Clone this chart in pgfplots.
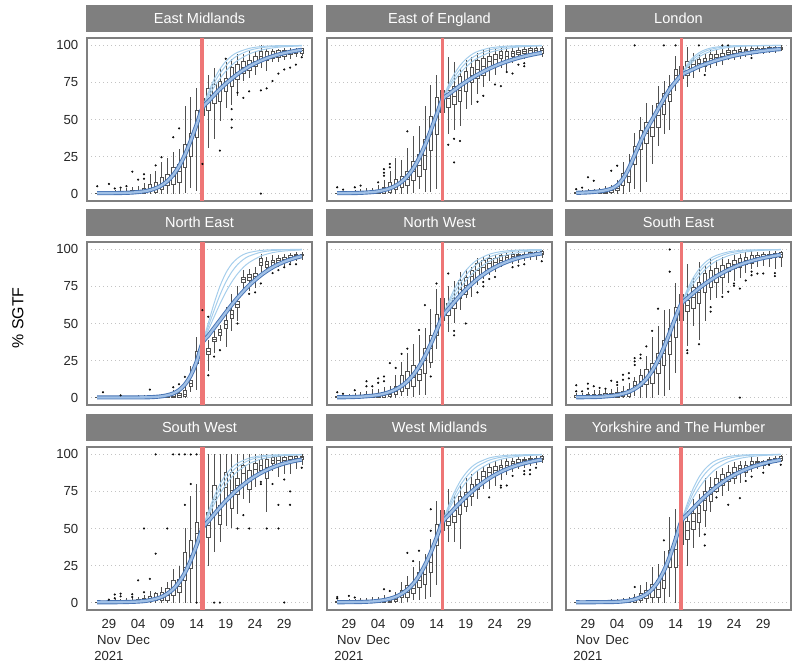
\documentclass[border=0pt]{standalone}
\usepackage{fontspec}
\setmainfont{Liberation Sans}
\usepackage{pgfplots}
\pgfplotsset{compat=1.18}
\usepgfplotslibrary{statistics}
\definecolor{stripgray}{RGB}{127,127,127}
\definecolor{bordergray}{RGB}{127,127,127}
\definecolor{gridgray}{RGB}{195,195,195}
\definecolor{redl}{RGB}{238,118,118}
\definecolor{fanblue}{RGB}{166,206,236}
\definecolor{bandblue}{RGB}{70,115,180}
\definecolor{bandlight}{RGB}{160,192,230}
\definecolor{boxgray}{RGB}{80,80,80}
\definecolor{dotgray}{RGB}{50,50,50}
\newcommand{\B}[6]{\addplot[bxp, boxplot prepared={draw direction=y, draw position=#1, lower whisker=#2, lower quartile=#3, median=#4, upper quartile=#5, upper whisker=#6, box extend=0.6, whisker extend=0}] coordinates {};}
\pgfplotsset{
 panel/.style={
  scale only axis, width=225bp, height=163bp,
  xmin=-3.75, xmax=34.75, ymin=-5, ymax=105,
  xtick={0,5,10,15,20,25,30}, ytick={0,25,50,75,100},
  xticklabels={}, yticklabels={},
  major tick length=0pt,
  ymajorgrids,
  grid style={gridgray, line width=0.7bp, dash pattern=on 1.2bp off 2.8bp},
  axis line style={draw=bordergray, line width=1.3bp},
  title style={at={(0.5,1)}, anchor=south, fill=stripgray, text=white, minimum width=226.3bp, minimum height=27.5bp, inner sep=0pt, outer sep=0pt, font=\fontsize{14.6}{17}\selectfont, text height=10.5bp, text depth=0pt},
  ticklabel style={font=\fontsize{13.2}{16}\selectfont, text=black!85},
  yticklabel style={inner sep=0pt, xshift=-8.5bp},
  xticklabel style={inner sep=0pt, yshift=-9bp, align=center},
 },
 leftcol/.style={yticklabels={0,25,50,75,100}},
 bottomrow/.style={xticklabels={{29\\Nov\\2021},{04\\Dec},09,14,19,24,29}},
 bxp/.style={draw=boxgray, fill=white, line width=0.5bp, solid, forget plot},
 outl/.style={only marks, mark=*, mark size=0.85bp, mark options={fill=dotgray, draw=none}, forget plot},
 fan/.style={no marks, smooth, line width=1bp, color=fanblue, forget plot},
 band/.style={no marks, smooth, draw=bandblue, line width=0.9bp, double=bandlight, double distance=2.3bp, forget plot},
 redv/.style={no marks, draw=redl, forget plot},
}
\begin{document}
\begin{tikzpicture}
\useasboundingbox (0bp,0bp) rectangle (800bp,671bp);
\node[rotate=90, font=\fontsize{16}{19}\selectfont] at (18bp,353bp) {\% SGTF};

%%%%%%%%%%%%%%%% East Midlands
\begin{axis}[panel, leftcol, at={(87bp,470bp)}, anchor=south west, title={East Midlands}]
\B{-2}{0}{0}{0}{0.5}{1.5}
\B{-1}{0}{0}{0}{0.4}{1.2}
\B{0}{0}{0}{0.2}{0.8}{2}
\B{1}{0}{0}{0.3}{1}{2.5}
\B{2}{0}{0}{0.5}{1.3}{3}
\B{3}{0}{0}{0.5}{1.5}{3.5}
\B{4}{0}{0.2}{0.8}{2}{4.5}
\B{5}{0}{0.3}{1}{2.2}{5}
\B{6}{0}{0.5}{1.5}{3.5}{7}
\B{7}{0}{1.5}{3.5}{6}{13}
\B{8}{0}{1.2}{4}{7.6}{15}
\B{9}{0}{3}{6}{11}{21}
\B{10}{0}{5.4}{9}{13}{24}
\B{11}{0}{6.5}{12}{17.7}{28}
\B{12}{0}{7.6}{15}{20}{30}
\B{13}{0.5}{17.7}{25}{33}{59}
\B{14}{4}{25}{34}{41}{65}
\B{15}{2}{38}{47}{56}{71}
\B{16}{22}{53}{58}{64}{82.5}
\B{17}{31}{56}{64}{71}{80}
\B{18}{37}{61}{67}{73.6}{85}
\B{19}{49}{62}{70}{76}{85}
\B{20}{58}{69}{74}{78}{89}
\B{21}{60}{72.5}{79}{85}{91}
\B{22}{66}{77}{82}{87}{94}
\B{23}{76}{81}{85}{89}{94}
\B{24}{78}{83}{87}{90}{96}
\B{25}{80}{86}{89}{92.6}{96}
\B{26}{85}{90}{93}{96}{100}
\B{27}{83}{90}{93}{96}{97.5}
\B{28}{89}{91.5}{94}{96}{97.5}
\B{29}{89}{92}{94.5}{96.5}{97.5}
\B{30}{90}{93}{95}{97}{98}
\B{31}{91}{94}{95.5}{97}{98.5}
\B{32}{92}{94.5}{96}{97.5}{98.5}
\B{33}{93}{95}{96.5}{98}{98.5}
\addplot[outl] coordinates {(-2,5)(0,6.5)(1,3.5)(2,4)(3,5)(4,14.8)(5,9.4)(6,13)(6,10)(8,19)(9,24.5)(11,38)(12,44)(16,20)(19,29)(20,91)(21,57)(21,50)(21,44.5)(22,68)(23,64.6)(24,69)(26,0)(26,69.6)(27,71)(28,76)(29,81)(30,83.7)(31,85)(32,87)(33,92)};
\addplot[fan] coordinates {(16,57.8)(17,68.2)(18,77.1)(19,84.1)(20,89.2)(21,92.9)(22,95.3)(24,98.0)(26,99.2)(28,99.7)(30,99.85)(33,99.95)};
\addplot[fan] coordinates {(16,57.8)(17,66.7)(18,74.6)(19,81.1)(20,86.2)(21,90.2)(22,93.1)(24,96.6)(26,98.4)(28,99.2)(30,99.6)(33,99.9)};
\addplot[fan] coordinates {(16,57.8)(17,65.1)(18,71.8)(19,77.6)(20,82.6)(21,86.6)(22,89.8)(24,94.2)(26,96.8)(28,98.3)(30,99.1)(33,99.7)};
\addplot[band] coordinates {(-2,0.3)(0,0.3)(2,0.4)(4,0.7)(6,1.5)(7,2.3)(8,3.6)(9,5.5)(10,8.4)(11,12.6)(12,18.4)(13,26.1)(14,35.7)(15,46.5)(16,57.8)(17,62.2)(18,66.5)(19,70.5)(20,74.2)(22,80.6)(24,85.8)(26,89.7)(28,92.7)(30,94.8)(32,96.4)(33,97.0)};
\addplot[redv, line width=4bp] coordinates {(16,-5)(16,105)};
\end{axis}

%%%%%%%%%%%%%%%% East of England
\begin{axis}[panel, at={(327bp,470bp)}, anchor=south west, title={East of England}]
\B{-2}{0}{0}{0}{0.5}{1.5}
\B{-1}{0}{0}{0}{0.5}{1.5}
\B{0}{0}{0}{0.2}{0.8}{2}
\B{1}{0}{0}{0.3}{1}{2.5}
\B{2}{0}{0}{0.4}{1.2}{3}
\B{3}{0}{0}{0.5}{1.5}{3.5}
\B{4}{0}{0}{0.6}{1.8}{4}
\B{5}{0}{0.3}{1}{2.5}{5.5}
\B{6}{0}{0.5}{1.5}{4}{9}
\B{7}{0}{1}{3.5}{7.6}{15}
\B{8}{0}{3}{6}{10}{24}
\B{9}{0}{4}{8}{12}{23}
\B{10}{0}{5.4}{10}{15.4}{31}
\B{11}{0.5}{8.7}{15}{22}{39}
\B{12}{3}{12}{19}{26.6}{45.6}
\B{13}{1}{16.5}{26}{36.7}{59}
\B{14}{1}{29}{40}{52}{73.6}
\B{15}{3}{40}{53}{64.7}{80}
\B{16}{8}{55}{63}{70}{95}
\B{17}{40}{58}{64}{70}{92}
\B{18}{43}{60}{66}{72.5}{89}
\B{19}{45.6}{62}{70}{79}{84}
\B{20}{57}{69}{76}{82.5}{90}
\B{21}{60}{75}{80}{85}{92}
\B{22}{67}{78}{84}{90}{95}
\B{23}{72}{80}{86}{91.5}{97}
\B{24}{76}{85}{89}{92.6}{98}
\B{25}{80}{87}{90.5}{94}{98}
\B{26}{85}{91.5}{93.5}{96}{99}
\B{27}{83}{89}{93}{96}{99}
\B{28}{88}{92.6}{94.5}{96}{98.5}
\B{29}{90}{94}{95.5}{97}{99}
\B{30}{91}{94.5}{96}{97.5}{99}
\B{31}{92}{95}{96.5}{98}{99.5}
\B{32}{93}{95.5}{97}{98}{99.5}
\B{33}{92}{94.6}{96.5}{98}{99.5}
\addplot[outl] coordinates {(-2,4.2)(-1,2.7)(1,4.2)(2,5.4)(5,7.6)(6,16.5)(6,14)(6,12)(7,20)(7,17.7)(10,42)(17,33)(18,37)(18,21)(19,35.5)(22,62)(23,66)(25,73.6)(26,72.5)(27,82)(28,81)(29,87)(30,88)(30,86)};
\addplot[fan] coordinates {(16,63.6)(17,72.9)(18,80.5)(19,86.4)(20,90.7)(21,93.8)(22,95.9)(24,98.2)(26,99.2)(28,99.7)(30,99.85)(33,99.95)};
\addplot[fan] coordinates {(16,63.6)(17,71.5)(18,78.2)(19,83.8)(20,88.1)(21,91.4)(22,93.8)(24,96.9)(26,98.5)(28,99.2)(30,99.6)(33,99.9)};
\addplot[fan] coordinates {(16,63.6)(17,70.3)(18,76.1)(19,81.2)(20,85.3)(21,88.7)(22,91.4)(24,95.1)(26,97.2)(28,98.5)(30,99.2)(33,99.7)};
\addplot[band] coordinates {(-2,0.3)(0,0.3)(2,0.5)(4,1.0)(5,1.5)(6,2.3)(7,3.5)(8,5.3)(9,7.9)(10,11.7)(11,16.9)(12,23.9)(13,32.5)(14,42.6)(15,53.2)(16,63.6)(17,66.8)(18,69.8)(19,72.7)(20,75.4)(22,80.2)(24,84.3)(26,87.7)(28,90.4)(30,92.6)(32,94.3)(33,95.0)};
\addplot[redv, line width=3bp] coordinates {(16,-5)(16,105)};
\end{axis}

%%%%%%%%%%%%%%%% London
\begin{axis}[panel, at={(566bp,470bp)}, anchor=south west, title={London}]
\B{-2}{0}{0}{0.3}{1}{2}
\B{-1}{0}{0}{0.3}{1}{2.5}
\B{0}{0}{0.2}{0.5}{1.5}{3}
\B{1}{0}{0.2}{0.6}{1.5}{3}
\B{2}{0}{0.3}{0.8}{2}{4}
\B{3}{0}{0.4}{1}{2.5}{5}
\B{4}{0}{1}{2}{3}{6}
\B{5}{0}{2}{3.5}{5}{9}
\B{6}{0}{5.4}{9}{14}{21}
\B{7}{0.9}{7.6}{12}{17.7}{26.6}
\B{8}{3}{20}{26}{32}{41}
\B{9}{1}{30}{36}{43}{52}
\B{10}{7.6}{34}{41}{48}{61}
\B{11}{20}{39}{45}{50}{60}
\B{12}{32}{44.5}{53}{61}{72.5}
\B{13}{40}{53.5}{60}{68}{76}
\B{14}{43}{62}{67}{72.5}{80}
\B{15}{69}{76}{80}{83.7}{92.6}
\B{16}{72.5}{78}{82}{86}{90}
\B{17}{72}{80}{85}{89}{99}
\B{18}{78}{84}{87}{90}{95}
\B{19}{82}{85}{88}{90.5}{94}
\B{20}{82}{86}{89}{91.5}{95}
\B{21}{85}{89}{91.5}{94}{97}
\B{22}{86}{90}{92}{94}{97}
\B{23}{87}{91}{93}{95}{98}
\B{24}{90}{94}{95.5}{97}{99}
\B{25}{90}{93.5}{95}{96.5}{99}
\B{26}{91}{95}{96}{97.5}{99.5}
\B{27}{92}{95}{96.5}{97.5}{99.5}
\B{28}{93}{96}{97}{98}{99.5}
\B{29}{94}{96}{97}{98}{99.5}
\B{30}{94}{96}{97.5}{98}{99.5}
\B{31}{95}{97}{97.5}{98.5}{99.5}
\B{32}{95}{97}{98}{98.5}{99.5}
\B{33}{96}{97.5}{98}{99}{100}
\addplot[outl] coordinates {(-2,3)(-1,4)(0,11)(1,8.7)(4,15.4)(5,18.8)(8,100)(13,100)(15,100)(19,100)(20,80)(23,100)(24,100)(28,91.5)};
\addplot[fan] coordinates {(16,80)(17,87.1)(18,91.9)(19,95.0)(20,97.0)(21,98.2)(22,98.9)(24,99.6)(26,99.85)(33,99.99)};
\addplot[fan] coordinates {(16,80)(17,86.1)(18,90.6)(19,93.7)(20,95.9)(21,97.3)(22,98.2)(24,99.3)(26,99.7)(33,99.98)};
\addplot[fan] coordinates {(16,80)(17,85.1)(18,89.2)(19,92.2)(20,94.4)(21,96.0)(22,97.2)(24,98.6)(26,99.3)(28,99.7)(33,99.9)};
\addplot[band] coordinates {(-2,0.5)(0,0.8)(2,1.5)(3,2.2)(4,3.3)(5,5.5)(6,10)(7,17)(8,26)(9,35)(10,43)(11,50)(12,57)(13,64)(14,70.5)(15,75.5)(16,80)(17,82.1)(18,83.9)(19,85.7)(20,87.2)(22,89.9)(24,92.1)(26,93.9)(28,95.2)(30,96.3)(32,97.2)(33,97.5)};
\addplot[redv, line width=2.5bp] coordinates {(16,-5)(16,105)};
\end{axis}

%%%%%%%%%%%%%%%% North East
\begin{axis}[panel, leftcol, at={(87bp,266bp)}, anchor=south west, title={North East}]
\B{-2}{0}{0}{0}{0}{0.5}
\B{-1}{0}{0}{0}{0}{0.8}
\B{0}{0}{0}{0}{0}{0.5}
\B{1}{0}{0}{0}{0.3}{1}
\B{2}{0}{0}{0}{0}{0.8}
\B{3}{0}{0}{0}{0.3}{1}
\B{4}{0}{0}{0}{0.3}{1}
\B{5}{0}{0}{0}{0.5}{1.5}
\B{6}{0}{0}{0}{0.5}{1.5}
\B{7}{0}{0}{0.2}{0.8}{2}
\B{8}{0}{0}{0.2}{0.8}{2}
\B{9}{0}{0}{0.3}{1}{2.5}
\B{10}{0}{0}{0.5}{1.5}{3}
\B{11}{0}{0.3}{1}{2.5}{5}
\B{12}{0}{0.5}{1.5}{3}{6}
\B{13}{0}{1}{2.5}{5}{9}
\B{14}{4}{7.6}{10}{12}{21}
\B{15}{5}{23}{27}{31}{41}
\B{16}{15}{30}{35}{40}{55}
\B{17}{17.7}{29}{31}{33}{39}
\B{18}{30}{38}{39.5}{41}{45}
\B{19}{38}{42}{44}{46}{49}
\B{20}{34}{47}{49.5}{52}{61}
\B{21}{45}{53.5}{56}{59}{70}
\B{22}{52}{61}{63}{65}{75}
\B{23}{72.5}{78}{80}{81.5}{86}
\B{24}{72}{79}{81}{83}{87}
\B{25}{74}{80}{82}{84}{88}
\B{26}{85}{89}{91.5}{94}{97}
\B{27}{84}{88}{90}{92}{95}
\B{28}{86}{89}{91}{93}{96}
\B{29}{88}{91}{92.5}{94}{96.5}
\B{30}{89}{92}{93.5}{95}{97}
\B{31}{91}{94}{95}{96}{97.5}
\B{32}{92}{95}{96}{97}{98}
\B{33}{93}{96}{96.5}{97}{98}
\addplot[outl] coordinates {(-1,3.6)(2,1.5)(7,5.4)(11,7)(12,9)(13,14)(16,59)(17,54.6)(17,15)(18,27.7)(19,32)(22,50)(24,70)(25,71)(26,77)(28,84)(29,86)(30,88)(31,90)(32,90)};
\addplot[fan] coordinates {(16,36.8)(17,50.2)(18,63.6)(19,75.2)(20,84.0)(21,90.1)(22,94.0)(23,96.5)(24,97.9)(26,99.3)(28,99.8)(33,99.99)};
\addplot[fan] coordinates {(16,36.8)(17,47.8)(18,58.9)(19,69.2)(20,77.9)(21,84.7)(22,89.7)(23,93.2)(24,95.5)(26,98.1)(28,99.2)(30,99.7)(33,99.95)};
\addplot[fan] coordinates {(16,36.8)(17,45.5)(18,54.5)(19,63.2)(20,71.1)(21,77.9)(22,83.5)(23,87.9)(24,91.2)(26,95.5)(28,97.8)(30,98.9)(33,99.7)};
\addplot[band] coordinates {(-2,0.1)(0,0.1)(2,0.1)(4,0.1)(6,0.15)(7,0.26)(8,0.48)(9,0.87)(10,1.6)(11,2.8)(12,5.0)(13,8.8)(14,14.9)(15,24.2)(16,36.8)(17,41.8)(18,47.0)(19,52.2)(20,57.4)(21,62.5)(22,67.3)(23,71.7)(24,75.8)(26,82.6)(28,87.9)(30,91.7)(32,94.4)(33,95.4)};
\addplot[redv, line width=4.5bp] coordinates {(16,-5)(16,105)};
\end{axis}

%%%%%%%%%%%%%%%% North West
\begin{axis}[panel, at={(327bp,266bp)}, anchor=south west, title={North West}]
\B{-2}{0}{0}{0.2}{0.8}{2}
\B{-1}{0}{0}{0.2}{0.8}{2}
\B{0}{0}{0}{0.3}{1}{2.5}
\B{1}{0}{0}{0.4}{1.2}{3}
\B{2}{0}{0}{0.5}{1.5}{3.5}
\B{3}{0}{0.2}{0.8}{2}{4.5}
\B{4}{0}{0.3}{1}{2.5}{5.5}
\B{5}{0}{0.5}{1.2}{2.8}{6}
\B{6}{0}{0.5}{1.5}{3.2}{7}
\B{7}{0}{1}{2.5}{4.2}{7.6}
\B{8}{0}{2}{4.5}{7.6}{15.4}
\B{9}{0.9}{4.2}{9}{15.4}{24}
\B{10}{1}{6.5}{12}{17.7}{30}
\B{11}{0.5}{7.6}{14}{22}{36}
\B{12}{2}{12}{15.5}{18.8}{42}
\B{13}{2}{16.5}{25}{33}{47}
\B{14}{20}{24}{33}{42}{60}
\B{15}{33}{42}{49}{56}{73.6}
\B{16}{39}{52}{59}{67}{79}
\B{17}{44.5}{55.7}{59.5}{63.5}{75}
\B{18}{50}{60}{63.5}{67}{79}
\B{19}{59}{67}{73}{79}{85}
\B{20}{67}{70}{76}{81}{87}
\B{21}{68}{77}{82}{86}{88}
\B{22}{76}{81.4}{86}{90.4}{94}
\B{23}{80}{83.7}{88}{92.6}{95}
\B{24}{83}{87}{90.5}{94}{96}
\B{25}{85}{88}{91}{94}{96}
\B{26}{88}{90.4}{93}{96}{97}
\B{27}{90}{93}{94.5}{96}{98}
\B{28}{90}{94}{95.5}{97}{98}
\B{29}{91}{95}{96}{97}{99}
\B{30}{92}{95}{96}{97}{99}
\B{31}{93}{96}{97}{98}{99}
\B{32}{93}{96}{97}{98}{99.5}
\B{33}{94}{96.6}{97.5}{99}{99.5}
\addplot[outl] coordinates {(-2,3.6)(-1,2.6)(1,5)(3,11)(3,7.6)(4,7.6)(5,13)(5,10)(6,14.3)(6,11)(7,23.3)(8,20)(9,29.5)(10,33)(12,45.6)(13,62.4)(14,14.3)(15,77)(17,83.7)(18,42)(18,45)(20,50)(22,71)(23,78)(23,75)(24,80)(25,81.4)(28,88)(29,89)(30,90)(33,92)};
\addplot[fan] coordinates {(16,54.7)(17,64.3)(18,72.9)(19,80.1)(20,85.7)(21,89.9)(22,93.0)(24,96.7)(26,98.5)(28,99.3)(30,99.7)(33,99.9)};
\addplot[fan] coordinates {(16,54.7)(17,62.9)(18,70.5)(19,77.0)(20,82.5)(21,86.9)(22,90.3)(24,94.8)(26,97.3)(28,98.6)(30,99.3)(33,99.8)};
\addplot[fan] coordinates {(16,54.7)(17,61.5)(18,67.9)(19,73.7)(20,78.8)(21,83.1)(22,86.6)(24,91.9)(26,95.2)(28,97.2)(30,98.4)(33,99.4)};
\addplot[band] coordinates {(-2,0.2)(0,0.3)(2,0.6)(4,1.25)(5,1.8)(6,2.6)(7,3.8)(8,5.5)(9,7.8)(10,11.0)(11,15.3)(12,20.9)(13,27.9)(14,36.1)(15,45.3)(16,54.7)(17,59.6)(18,64.3)(19,68.8)(20,72.9)(22,80.1)(24,85.7)(26,89.9)(28,93.0)(30,95.2)(32,96.7)(33,97.3)};
\addplot[redv, line width=3.3bp] coordinates {(16,-5)(16,105)};
\end{axis}

%%%%%%%%%%%%%%%% South East
\begin{axis}[panel, at={(566bp,266bp)}, anchor=south west, title={South East}]
\B{-2}{0}{0}{0.5}{1.5}{3}
\B{-1}{0}{0}{0.5}{1.5}{3}
\B{0}{0}{0}{0.8}{2}{4}
\B{1}{0}{0.2}{1}{2.5}{5}
\B{2}{0}{0.2}{1}{2.5}{5}
\B{3}{0}{0.3}{1.2}{3}{5}
\B{4}{0}{0.3}{1.5}{3}{6}
\B{5}{0}{0.5}{1.8}{3.5}{7}
\B{6}{0}{1}{2.5}{4}{8}
\B{7}{0}{1}{3}{5.4}{10}
\B{8}{1}{5.4}{8}{11}{14}
\B{9}{0}{7.6}{11}{15.4}{19}
\B{10}{0}{8.7}{13}{18.8}{28}
\B{11}{0}{10}{17}{23}{41}
\B{12}{2}{16.5}{23}{30}{48}
\B{13}{1}{22}{30}{39}{59}
\B{14}{5.4}{29}{38}{47}{60}
\B{15}{16.5}{41}{52}{61}{77}
\B{16}{34.5}{52}{61}{70}{78}
\B{17}{34.5}{58}{62}{66}{90}
\B{18}{48}{60}{68}{74.7}{81}
\B{19}{39}{63.5}{71}{78}{91.5}
\B{20}{52}{71}{78}{84}{89}
\B{21}{66}{74.7}{80}{86}{93.7}
\B{22}{67}{78}{83}{87}{92.6}
\B{23}{70}{81.4}{85}{89}{95}
\B{24}{77}{85}{88}{90.4}{93.7}
\B{25}{79}{87}{90}{92.6}{96}
\B{26}{81}{88}{91}{93.7}{97}
\B{27}{84}{89.7}{92.5}{95}{98}
\B{28}{87}{90.4}{93}{96}{99}
\B{29}{88}{93}{94.5}{96}{98}
\B{30}{89}{94}{95.5}{97}{98.5}
\B{31}{88}{94}{95.5}{97}{99}
\B{32}{87}{94.6}{96}{97.5}{99}
\B{33}{88}{94.6}{96.5}{98}{99}
\addplot[outl] coordinates {(-2,8.3)(-2,4.2)(-1,4.2)(0,9.4)(0,6)(1,7.6)(2,6.5)(3,6)(4,11.4)(5,10.5)(5,8.5)(6,15.4)(6,12)(7,16.5)(7,13)(8,26.6)(8,24.4)(8,22)(9,29)(9,26.6)(10,34.5)(11,45)(12,60)(14,100)(14,85)(17,32)(17,30)(19,36)(21,58)(21,61)(23,68)(24,71.4)(25,77)(25,75.5)(26,0)(26,73.6)(27,79)(28,85)(28,82.6)(29,83.7)(30,83.7)(32,84)(32,82)};
\addplot[fan] coordinates {(16,63.4)(17,72.9)(18,80.7)(19,86.6)(20,91.0)(21,94.0)(22,96.0)(24,98.3)(26,99.3)(28,99.7)(33,99.95)};
\addplot[fan] coordinates {(16,63.4)(17,71.7)(18,78.8)(19,84.4)(20,88.8)(21,92.1)(22,94.4)(24,97.3)(26,98.7)(28,99.4)(30,99.7)(33,99.9)};
\addplot[fan] coordinates {(16,63.4)(17,70.5)(18,76.7)(19,81.9)(20,86.2)(21,89.6)(22,92.2)(24,95.7)(26,97.7)(28,98.8)(30,99.4)(33,99.8)};
\addplot[band] coordinates {(-2,0.2)(0,0.3)(2,0.5)(4,1.15)(5,1.7)(6,2.6)(7,3.9)(8,5.9)(9,8.7)(10,12.7)(11,18.1)(12,25.2)(13,33.8)(14,43.8)(15,54.2)(16,63.4)(17,67.0)(18,70.5)(19,73.7)(20,76.7)(22,81.9)(24,86.2)(26,89.6)(28,92.2)(30,94.2)(32,95.7)(33,96.3)};
\addplot[redv, line width=2.2bp] coordinates {(16,-5)(16,105)};
\end{axis}

%%%%%%%%%%%%%%%% South West
\begin{axis}[panel, leftcol, bottomrow, at={(87bp,61bp)}, anchor=south west, title={South West}]
\B{-2}{0}{0}{0}{0}{0.5}
\B{-1}{0}{0}{0}{0.3}{1}
\B{0}{0}{0}{0}{0.5}{1.5}
\B{1}{0}{0}{0.3}{1}{2.5}
\B{2}{0}{0}{0.3}{1}{2.5}
\B{3}{0}{0}{0.3}{1.2}{3}
\B{4}{0}{0}{0.5}{1.5}{3}
\B{5}{0}{0.3}{1}{2}{4}
\B{6}{0}{0.5}{1.5}{3}{5}
\B{7}{0}{1}{2}{4.2}{8}
\B{8}{0}{1.6}{3}{6}{7}
\B{9}{0}{1.6}{4}{7}{10.5}
\B{10}{0}{1.6}{5}{9.4}{14}
\B{11}{0}{5}{10}{15}{23}
\B{12}{0}{7}{11}{16}{25}
\B{13}{0}{15}{24}{34}{50}
\B{14}{0}{23}{32}{42}{72}
\B{15}{0.5}{39.6}{47}{54}{80}
\B{16}{0}{48.5}{58}{71}{100}
\B{17}{25}{44}{52}{61}{100}
\B{18}{34}{60}{70}{79}{100}
\B{19}{41}{53}{59}{66}{100}
\B{20}{52}{68.7}{78}{87.7}{100}
\B{21}{50}{64}{76}{87.7}{100}
\B{22}{60}{73}{79}{84}{100}
\B{23}{70}{80}{87}{93}{100}
\B{24}{67}{76.5}{84}{89}{100}
\B{25}{78}{85}{90}{94}{100}
\B{26}{86}{89}{93}{96.6}{100}
\B{27}{61}{84}{91}{96.6}{100}
\B{28}{89}{94}{96}{98}{100}
\B{29}{85}{92}{96}{99}{100}
\B{30}{87}{94}{96}{98}{100}
\B{31}{87}{95}{97}{98.5}{100}
\B{32}{90}{96}{97.5}{98.5}{100}
\B{33}{93}{96.6}{98}{99}{100}
\addplot[outl] coordinates {(0,2)(1,3)(1,5.4)(2,6)(2,4.2)(4,5.6)(4,3.8)(5,15)(6,50)(6,7)(7,16)(8,33)(8,100)(10,50)(11,100)(12,100)(13,100)(13,66)(14,100)(14,80)(15,100)(15,0)(18,0)(19,0)(22,50)(23,59)(24,50)(26,80)(26,81.5)(27,50)(28,80)(29,50)(29,66)(30,83)(30,0)(31,75)(31,66)(33,91)};
\addplot[fan] coordinates {(16,50)(17,61.3)(18,71.5)(19,79.9)(20,86.3)(21,90.9)(22,94.0)(24,97.5)(26,99.0)(28,99.6)(33,99.95)};
\addplot[fan] coordinates {(16,50)(17,59.9)(18,69.0)(19,76.9)(20,83.2)(21,88.1)(22,91.7)(24,96.1)(26,98.2)(28,99.2)(30,99.6)(33,99.9)};
\addplot[fan] coordinates {(16,50)(17,58.4)(18,66.4)(19,73.5)(20,79.6)(21,84.6)(22,88.5)(24,93.8)(26,96.8)(28,98.3)(30,99.2)(33,99.7)};
\addplot[band] coordinates {(-2,0.2)(0,0.2)(2,0.3)(4,0.5)(5,0.7)(6,1.0)(7,1.6)(8,2.5)(9,3.8)(10,6.0)(11,9.1)(12,13.7)(13,20.1)(14,28.5)(15,38.7)(16,50)(17,54.9)(18,59.6)(19,64.2)(20,68.6)(21,72.6)(22,76.3)(24,82.6)(26,87.5)(28,91.2)(30,93.9)(32,95.8)(33,96.5)};
\addplot[redv, line width=4.2bp] coordinates {(16,-5)(16,105)};
\end{axis}

%%%%%%%%%%%%%%%% West Midlands
\begin{axis}[panel, bottomrow, at={(327bp,61bp)}, anchor=south west, title={West Midlands}]
\B{-2}{0}{0}{0.2}{0.8}{2}
\B{-1}{0}{0}{0.2}{0.8}{2}
\B{0}{0}{0}{0.3}{1}{2.5}
\B{1}{0}{0}{0.3}{1}{2.5}
\B{2}{0}{0}{0.4}{1.2}{3}
\B{3}{0}{0}{0.5}{1.3}{3}
\B{4}{0}{0.2}{0.6}{1.5}{3.5}
\B{5}{0}{0.2}{0.8}{1.8}{4}
\B{6}{0}{0.3}{1}{2.2}{5}
\B{7}{0}{0.5}{1.2}{2.5}{4}
\B{8}{0}{1}{2.2}{3.8}{7.2}
\B{9}{0}{3.8}{6}{8.3}{14}
\B{10}{0.5}{3.8}{7}{11.6}{18}
\B{11}{1.5}{6}{9.5}{12.7}{24}
\B{12}{1.5}{10.5}{15}{20.6}{28}
\B{13}{2.5}{12.7}{19}{25}{33}
\B{14}{3.8}{20.6}{27}{34}{43}
\B{15}{11.6}{38.5}{46}{53}{68.7}
\B{16}{38.5}{48.5}{55}{62}{77.6}
\B{17}{40.7}{52}{55}{58.6}{76.5}
\B{18}{40.7}{54}{58}{62}{72}
\B{19}{36}{59.7}{66}{72}{80}
\B{20}{61}{65.3}{70}{74.3}{84}
\B{21}{65}{72}{76}{80}{86.6}
\B{22}{70}{76.5}{80}{83}{89}
\B{23}{76.5}{81}{85}{88.8}{92}
\B{24}{76.5}{84.3}{88}{91}{94.4}
\B{25}{79}{86.6}{89.5}{92}{95.5}
\B{26}{83}{88.8}{91}{93}{96.6}
\B{27}{86}{91}{93}{95.5}{97.5}
\B{28}{88}{92}{94}{95.5}{97.5}
\B{29}{90}{93.5}{95}{96.5}{98}
\B{30}{91}{94.5}{96}{97}{98.5}
\B{31}{92}{95.5}{96.5}{97.5}{99}
\B{32}{93}{95.5}{96.5}{97.5}{99}
\B{33}{94}{96.6}{97.5}{99}{99.5}
\addplot[outl] coordinates {(-2,3.8)(-2,2.7)(0,4.5)(1,3.5)(6,9)(7,7.8)(10,33.6)(11,28)(12,35)(14,63)(14,48.5)(24,71)(26,79)(26,77.6)(27,79)(28,85.5)(30,88.8)(30,86.6)(31,89.5)(31,86.6)(32,91)};
\addplot[fan] coordinates {(16,54.2)(17,64.8)(18,74.1)(19,81.6)(20,87.3)(21,91.5)(22,94.3)(24,97.6)(26,99.0)(28,99.6)(33,99.95)};
\addplot[fan] coordinates {(16,54.2)(17,63.4)(18,71.7)(19,78.8)(20,84.4)(21,88.8)(22,92.1)(24,96.1)(26,98.1)(28,99.1)(30,99.6)(33,99.9)};
\addplot[fan] coordinates {(16,54.2)(17,62.0)(18,69.2)(19,75.6)(20,81.0)(21,85.4)(22,89.0)(24,93.9)(26,96.7)(28,98.2)(30,99.1)(33,99.7)};
\addplot[band] coordinates {(-2,0.2)(0,0.3)(2,0.4)(4,0.76)(5,1.15)(6,1.7)(7,2.6)(8,3.9)(9,5.9)(10,8.7)(11,12.7)(12,18.1)(13,25.2)(14,33.8)(15,43.8)(16,54.2)(17,58.8)(18,63.2)(19,67.4)(20,71.3)(22,78.2)(24,83.9)(26,88.3)(28,91.6)(30,94.0)(32,95.8)(33,96.5)};
\addplot[redv, line width=3.2bp] coordinates {(16,-5)(16,105)};
\end{axis}

%%%%%%%%%%%%%%%% Yorkshire and The Humber
\begin{axis}[panel, bottomrow, at={(566bp,61bp)}, anchor=south west, title={Yorkshire and The Humber}]
\B{-2}{0}{0}{0}{0.3}{0.8}
\B{-1}{0}{0}{0}{0.3}{0.8}
\B{0}{0}{0}{0}{0.3}{1}
\B{1}{0}{0}{0.2}{0.5}{1.5}
\B{2}{0}{0}{0.3}{0.8}{2}
\B{3}{0}{0}{0.3}{1}{2}
\B{4}{0}{0}{0.4}{1}{2.5}
\B{5}{0}{0}{0.5}{1.2}{2.5}
\B{6}{0}{0.2}{0.6}{1.5}{3}
\B{7}{0}{0.3}{0.8}{1.8}{3.5}
\B{8}{0}{0.5}{1.5}{3.5}{6}
\B{9}{0}{1.6}{3}{6}{11.6}
\B{10}{0}{2.7}{5}{8.5}{14}
\B{11}{0}{3.8}{8}{12.7}{24}
\B{12}{0}{3.8}{9}{15}{26}
\B{13}{0}{9.4}{15}{21.7}{35}
\B{14}{4}{24}{30}{35}{57.5}
\B{15}{0}{24}{36}{45}{63}
\B{16}{30.6}{39.6}{48}{56}{71}
\B{17}{25}{43}{49}{55}{62}
\B{18}{37}{49.7}{55}{60}{70}
\B{19}{44}{54}{60}{66}{73}
\B{20}{51}{62}{69}{75}{84}
\B{21}{61}{68.7}{73}{77.6}{85}
\B{22}{74}{75}{80}{84}{89}
\B{23}{72}{79}{83}{86.6}{91}
\B{24}{75}{82}{85}{87.7}{93}
\B{25}{80}{84}{88}{91}{95}
\B{26}{81}{87.7}{90.5}{93}{95.5}
\B{27}{85}{87.7}{90.5}{93}{95.5}
\B{28}{88}{91.5}{93.5}{95.5}{98}
\B{29}{90}{92.6}{94.5}{95.5}{98}
\B{30}{90}{92.6}{94.5}{95.5}{96.5}
\B{31}{94.5}{95}{96}{97}{98}
\B{32}{94}{94.6}{96}{97.5}{99}
\B{33}{95}{96}{97.5}{99}{99.5}
\addplot[outl] coordinates {(8,10.5)(13,42)(20,46)(20,38.5)(22,71)(24,66)(26,70.5)(27,82)(28,85)(30,87.7)(31,93)(33,93)};
\addplot[fan] coordinates {(16,55)(17,66.8)(18,76.9)(19,84.6)(20,90.0)(21,93.7)(22,96.1)(24,98.5)(26,99.5)(28,99.8)(33,99.99)};
\addplot[fan] coordinates {(16,55)(17,65.0)(18,73.9)(19,81.2)(20,86.8)(21,90.9)(22,93.8)(24,97.2)(26,98.8)(28,99.5)(30,99.8)(33,99.96)};
\addplot[fan] coordinates {(16,55)(17,63.2)(18,70.7)(19,77.2)(20,82.6)(21,87.0)(22,90.4)(24,94.9)(26,97.3)(28,98.6)(30,99.3)(33,99.8)};
\addplot[band] coordinates {(-2,0.2)(0,0.2)(2,0.3)(4,0.4)(5,0.5)(6,0.82)(7,1.3)(8,2.2)(9,3.6)(10,5.7)(11,9.1)(12,14.2)(13,21.4)(14,31.0)(15,42.6)(16,55.0)(17,59.4)(18,63.6)(19,67.7)(20,71.5)(22,78.2)(24,83.8)(26,88.1)(28,91.4)(30,93.8)(32,95.6)(33,96.3)};
\addplot[redv, line width=4bp] coordinates {(16,-5)(16,105)};
\end{axis}
\end{tikzpicture}
\end{document}
